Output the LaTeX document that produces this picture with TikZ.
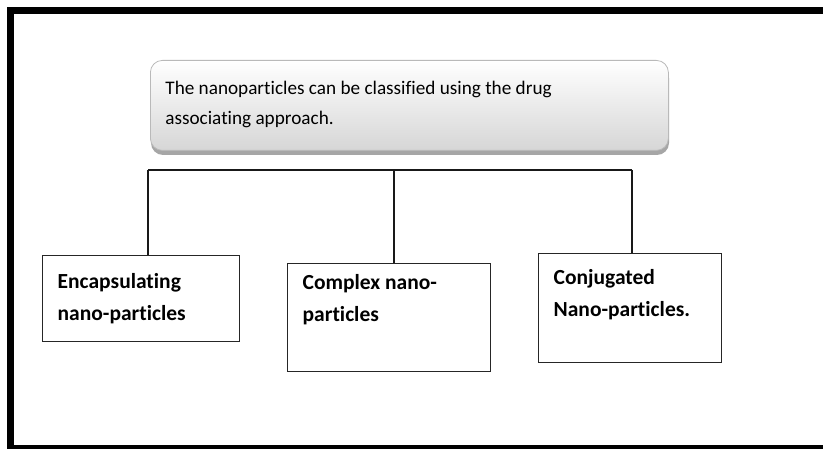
\documentclass[tikz,border=0pt]{standalone}
\usepackage{fontspec}
\setmainfont[Ligatures=NoCommon]{Carlito}
\begin{document}
\begin{tikzpicture}[x=1pt,y=-1pt,
  topbox/.style={draw=gray!55, line width=0.8pt, rounded corners=12pt,
    top color=white, bottom color=black!16, inner xsep=15pt, inner ysep=0pt,
    anchor=north west, font=\fontsize{19.2}{30}\selectfont},
  leafbox/.style={draw=black!85, line width=1.4pt, fill=white, inner xsep=15pt, inner ysep=0pt,
    anchor=north west, font=\bfseries\fontsize{21.5}{32}\selectfont},
  conn/.style={draw=black!90, line width=1.4pt}]
\useasboundingbox (0,0) rectangle (823,449);
\begin{scope}
\clip (0,0) rectangle (823,449);
\draw[line width=7.5pt] (10.5,10.5) rectangle (840,448.5);
\end{scope}
% shadow of top box
\fill[black!35, rounded corners=12pt] (151,66) rectangle (669,155);
\node[topbox] (top) at (150,60)
  {\parbox[c][90pt][t]{488pt}{\raggedright\rule{0pt}{34pt}The nanoparticles can be classified using the drug\\associating approach.}};
\node[leafbox] (bl) at (42,255)
  {\parbox[c][86pt][t]{167pt}{\raggedright\rule{0pt}{33pt}Encapsulating\\nano-particles}};
\node[leafbox] (bm) at (287,263)
  {\parbox[c][108pt][t]{173pt}{\raggedright\rule{0pt}{26pt}Complex nano-\\particles}};
\node[leafbox] (br) at (538,253)
  {\parbox[c][109pt][t]{153pt}{\raggedright\rule{0pt}{31pt}Conjugated\\Nano-particles.}};
\coordinate (jl) at (148,170);
\coordinate (jm) at (394,170);
\coordinate (jr) at (632,170);
\draw[conn] (jl) -- (jr);
\draw[conn] (jl) -- (jl |- bl.north);
\draw[conn] (jm) -- (jm |- bm.north);
\draw[conn] (jr) -- (jr |- br.north);
\end{tikzpicture}
\end{document}
